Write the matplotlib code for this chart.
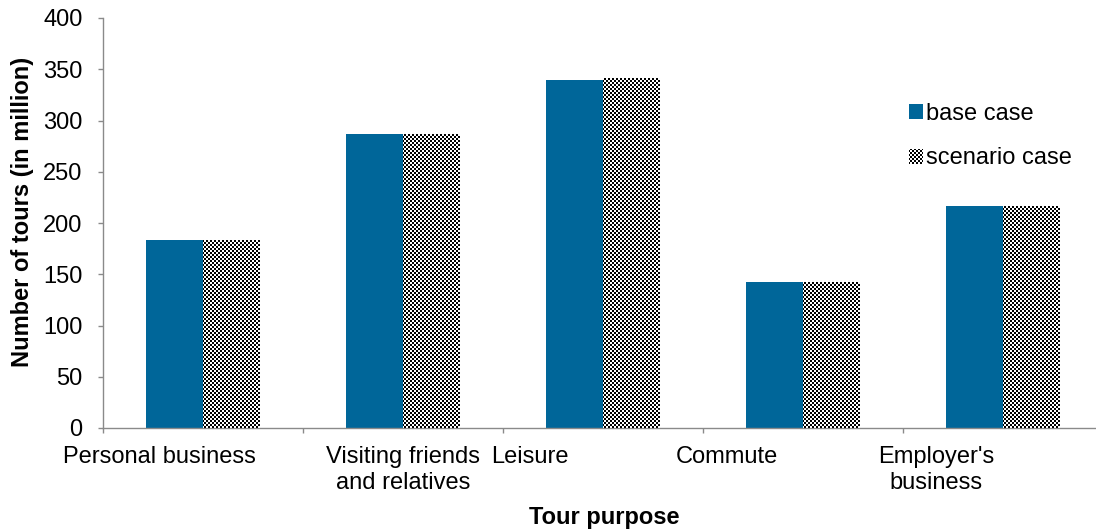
import numpy as np
import matplotlib
matplotlib.use("Agg")
import matplotlib.pyplot as plt
import matplotlib.transforms as mtransforms
from matplotlib.patches import Patch

plt.rcParams['font.family'] = ['Liberation Sans', 'DejaVu Sans']

categories = ["Personal business", "Visiting friends\nand relatives", "Leisure",
              "Commute", "Employer's\nbusiness"]
base_case = [183, 287, 340, 142, 217]
scenario_case = [183, 287, 341, 142, 217]
y_ticks = [0, 50, 100, 150, 200, 250, 300, 350, 400]
label_offsets = [-0.22, 0.0, -0.365, -0.3825, -0.335]

W, H, DPI = 1096, 532, 100
fig = plt.figure(figsize=(W / DPI, H / DPI), dpi=DPI)
ax = fig.add_axes([103 / W, (H - 428) / H, 1000 / W, 410 / H])

blue = '#006699'
gray = '#8a8a8a'
x = np.arange(len(categories))
bw = 0.285
bars_base = ax.bar(x - bw / 2, base_case, width=bw, color=blue, linewidth=0, zorder=2)
bars_scen = ax.bar(x + bw / 2, scenario_case, width=bw, color='white', linewidth=0, zorder=2)

ax.set_xlim(-0.5, len(categories) - 0.5)
ax.set_ylim(0, 400)
ax.set_yticks(y_ticks)
ax.set_xticks(np.arange(-0.5, len(categories), 1.0))
ax.set_xticklabels([])
for s in ['top', 'right']:
    ax.spines[s].set_visible(False)
for s in ['left', 'bottom']:
    ax.spines[s].set_color(gray)
    ax.spines[s].set_linewidth(1.0)
ax.tick_params(axis='both', direction='out', length=3.6, width=1.0, color=gray,
               labelsize=17, labelcolor='black')
ax.tick_params(axis='y', pad=11)

trans = mtransforms.blended_transform_factory(ax.transData, ax.transAxes)
for i, (lab, off) in enumerate(zip(categories, label_offsets)):
    ax.text(i + off, -0.043, lab, transform=trans, ha='center', va='top',
            fontsize=17, linespacing=1.27, multialignment='center')

ax.set_ylabel("Number of tours (in million)", fontsize=17, fontweight='bold')
ax.yaxis.set_label_coords(-0.069, 0.527)
ax.set_xlabel("Tour purpose", fontsize=17, fontweight='bold')
ax.xaxis.set_label_coords(0.501, -0.19)

handles = [Patch(facecolor=blue, linewidth=0), Patch(facecolor='white', linewidth=0)]
leg = ax.legend(handles, ["base case", "scenario case"], loc='upper left',
                bbox_to_anchor=(909 / W, 1 - 102.5 / H), bbox_transform=fig.transFigure,
                frameon=False, fontsize=17, handlelength=0.6, handleheight=0.6,
                handletextpad=0.1, labelspacing=0.97, borderpad=0, borderaxespad=0)

fig.canvas.draw()


def checker(bb):
    x0 = int(round(bb.x0)); y0 = int(round(bb.y0))
    x1 = int(round(bb.x1)); y1 = int(round(bb.y1))
    w = max(x1 - x0, 1); h = max(y1 - y0, 1)
    yy, xx = np.mgrid[y0:y0 + h, x0:x0 + w]
    arr = ((yy // 2 + xx // 2) % 2).astype(float)
    fig.figimage(arr, xo=x0, yo=y0, origin='lower', cmap='gray', vmin=0, vmax=1, zorder=5)


for b in bars_scen:
    checker(b.get_window_extent())
checker(leg.legend_handles[1].get_window_extent())

fig.savefig("out.png", dpi=DPI)
